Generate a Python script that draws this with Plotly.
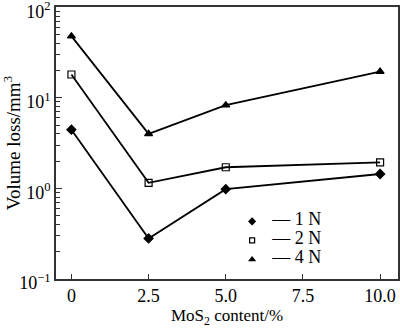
import plotly.graph_objects as go

x = [0, 2.5, 5.0, 10.0]
loss_1N = [4.45, 0.28, 0.98, 1.44]
loss_2N = [18.1, 1.15, 1.71, 1.94]
loss_4N = [48.0, 4.0, 8.3, 19.5]
series = [("1 N", loss_1N, "diamond", "black"),
          ("2 N", loss_2N, "square-open", "black"),
          ("4 N", loss_4N, "triangle-up", "black")]

x_ticks = [0, 2.5, 5.0, 7.5, 10.0]
x_ticklabels = ["0", "2.5", "5.0", "7.5", "10.0"]
y_ticks = [0.1, 1, 10, 100]
y_ticklabels = ["10<sup>−1</sup>", "10<sup>0</sup>", "10<sup>1</sup>", "10<sup>2</sup>"]
y_minor = [m * 10 ** e for e in (-1, 0, 1) for m in range(2, 10)]

FONT = "Liberation Serif, Times New Roman, serif"

fig = go.Figure()
for name, vals, sym, col in series:
    fig.add_trace(go.Scatter(
        x=x, y=vals, mode="lines+markers", showlegend=False,
        line=dict(color=col, width=1.8),
        marker=dict(symbol=sym, size=7, color=col, line=dict(color=col, width=1.2)),
    ))
for name, vals, sym, col in series:
    fig.add_trace(go.Scatter(
        x=[None], y=[None], mode="markers",
        name="<span style='font-size:18px'>— " + name + "</span>",
        marker=dict(symbol=sym, size=5, color=col, line=dict(color=col, width=1.2)),
    ))

fig.update_layout(
    width=400, height=329,
    margin=dict(l=56, r=2, t=7, b=50),
    paper_bgcolor="white", plot_bgcolor="white",
    font=dict(family=FONT, size=17, color="black"),
    legend=dict(x=0.515, y=0.265, xanchor="left", yanchor="top",
                bgcolor="rgba(0,0,0,0)", font=dict(size=10, family=FONT),
                tracegroupgap=0, itemwidth=30),
)
fig.update_xaxes(
    range=[-0.5, 10.58], tickvals=x_ticks, ticktext=x_ticklabels,
    ticks="inside", ticklen=5, tickwidth=1, tickcolor="#333",
    showline=True, linecolor="#333", linewidth=1.5, mirror=True,
    showgrid=False, zeroline=False, automargin=False,
    tickfont=dict(size=18, family=FONT),
    title=dict(text="MoS<sub>2</sub> content/%", font=dict(size=17, family=FONT), standoff=3),
)
fig.update_yaxes(
    type="log", range=[-1.001, 2.003], tickvals=y_ticks, ticktext=y_ticklabels,
    ticks="inside", ticklen=6, tickwidth=1, tickcolor="#333",
    minor=dict(tickvals=y_minor, ticks="inside", ticklen=4, tickcolor="#333", showgrid=False),
    showline=True, linecolor="#333", linewidth=1.5, mirror=True,
    showgrid=False, zeroline=False, automargin=False,
    ticklabeloverflow="allow", ticklabelshift=4,
    tickfont=dict(size=18, family=FONT),
    title=dict(text="Volume loss/mm<sup>3</sup>", font=dict(size=19, family=FONT), standoff=3),
)

fig.write_html("out.html", config={"displayModeBar": False},
               post_script="document.body.style.margin='0';document.body.style.overflow='hidden';")
